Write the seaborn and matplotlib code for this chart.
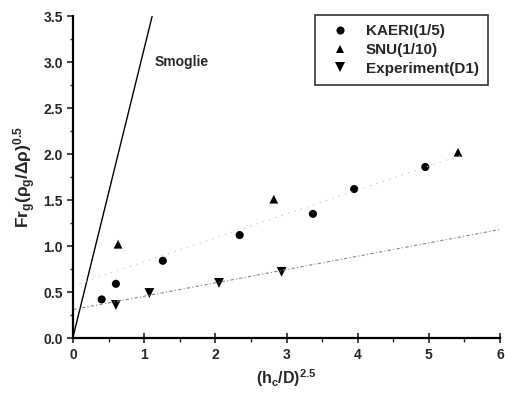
import matplotlib.pyplot as plt
import seaborn as sns
import pandas as pd
from matplotlib.ticker import MultipleLocator

# data
kaeri_x = [0.40, 0.60, 1.26, 2.34, 3.37, 3.95, 4.95]
kaeri_y = [0.42, 0.59, 0.84, 1.12, 1.35, 1.62, 1.86]
snu_x = [0.63, 2.82, 5.41]
snu_y = [1.02, 1.51, 2.02]
exp_x = [0.60, 1.07, 2.05, 2.93]
exp_y = [0.36, 0.49, 0.60, 0.72]

# reference lines (end points)
smoglie_x = [0.0, 1.11]
smoglie_y = [0.02, 3.5]
upper_fit_x = [0.0, 5.5]
upper_fit_y = [0.57, 2.0]
lower_fit_x = [0.0, 6.0]
lower_fit_y = [0.31, 1.18]

sns.set_style("ticks")
plt.rcParams['font.family'] = ['Liberation Sans', 'DejaVu Sans']
plt.rcParams['font.weight'] = 'bold'
plt.rcParams['mathtext.fontset'] = 'custom'
plt.rcParams['mathtext.rm'] = 'Liberation Sans:bold'
plt.rcParams['mathtext.it'] = 'Liberation Sans:bold'
plt.rcParams['mathtext.bf'] = 'Liberation Sans:bold'

fig = plt.figure(figsize=(5.05, 3.94), dpi=100)
ax = fig.add_axes([0.145, 0.142, 0.845, 0.817])

sns.lineplot(x=smoglie_x, y=smoglie_y, ax=ax, color='black', lw=1.0)
sns.lineplot(x=upper_fit_x, y=upper_fit_y, ax=ax, color='#bbbbbb', lw=0.8, linestyle=(0, (1, 5)))
sns.lineplot(x=lower_fit_x, y=lower_fit_y, ax=ax, color='#888888', lw=0.8, linestyle=(0, (3, 2, 1, 2)))

names = ['KAERI(1/5)', 'SNU(1/10)', 'Experiment(D1)']
df = pd.concat([
    pd.DataFrame({'x': kaeri_x, 'y': kaeri_y, 'set': names[0]}),
    pd.DataFrame({'x': snu_x, 'y': snu_y, 'set': names[1]}),
    pd.DataFrame({'x': exp_x, 'y': exp_y, 'set': names[2]}),
])
sns.scatterplot(data=df, x='x', y='y', style='set', size='set', ax=ax, color='black',
                markers=dict(zip(names, ['o', '^', 'v'])),
                sizes=dict(zip(names, [34, 40, 50])),
                edgecolor='black', linewidth=0)

ax.text(1.15, 2.96, 'Smoglie', fontsize=10, fontweight='bold')

ax.set_xlim(0, 6)
ax.set_ylim(0, 3.5)
ax.xaxis.set_major_locator(MultipleLocator(1))
ax.xaxis.set_minor_locator(MultipleLocator(0.5))
ax.yaxis.set_major_locator(MultipleLocator(0.5))
ax.yaxis.set_minor_locator(MultipleLocator(0.25))
ax.set_yticklabels([f'{v:.1f}' for v in ax.get_yticks()])
ax.tick_params(axis='x', which='major', direction='inout', length=7, width=1.2, labelsize=10)
ax.tick_params(axis='x', which='minor', direction='out', length=3, width=1)
ax.tick_params(axis='y', which='major', direction='out', length=4, width=1.2, labelsize=10)
ax.tick_params(axis='y', which='minor', direction='out', length=2.5, width=1)
for lab in ax.get_xticklabels() + ax.get_yticklabels():
    lab.set_fontweight('bold')

for side in ['top', 'right']:
    ax.spines[side].set_visible(False)
for side in ['left', 'bottom']:
    ax.spines[side].set_linewidth(1.6)
    ax.spines[side].set_color('black')

ax.set_xlabel(r'$(h_c/D)^{2.5}$', fontsize=11.5, labelpad=4)
ax.set_ylabel(r'$Fr_g(\rho_g/\Delta\rho)^{0.5}$', fontsize=12.5, labelpad=4)

leg = ax.legend(loc='upper right', bbox_to_anchor=(0.972, 1.003), borderaxespad=0,
                frameon=True, fancybox=False, edgecolor='black', fontsize=11,
                borderpad=0.6, handletextpad=0.7, labelspacing=0.3, markerscale=1.0)
leg.get_frame().set_linewidth(1.2)
for t in leg.get_texts():
    t.set_fontweight('bold')

fig.savefig('out.png', dpi=100)
